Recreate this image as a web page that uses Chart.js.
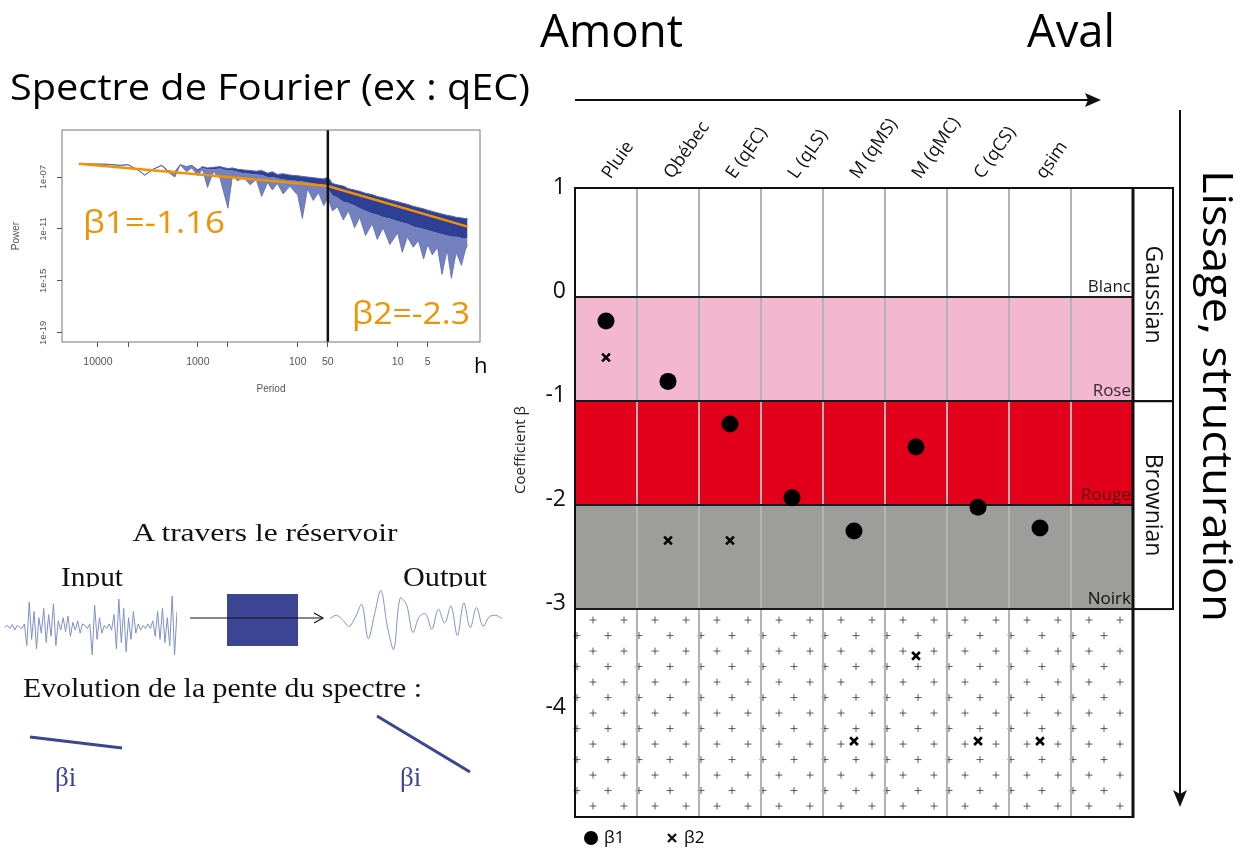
<!DOCTYPE html>
<html lang="fr">
<head>
<meta charset="utf-8">
<title>Coefficient β – spectre de Fourier</title>
<script src="https://cdn.jsdelivr.net/npm/chart.js@4.4.1/dist/chart.umd.min.js"></script>
<style>
  html, body { margin: 0; padding: 0; background: #fff; }
  #page { position: relative; width: 1249px; height: 852px; overflow: hidden; background: #fff; }
  canvas, svg { position: absolute; }
  #deco { left: 0; top: 0; pointer-events: none; }
</style>
</head>
<body>
<div id="page">
  <canvas id="spectre" width="490" height="280" style="left:0;top:120px;width:490px;height:280px"></canvas>
  <canvas id="entree" width="172" height="62" style="left:5px;top:596px;width:172px;height:62px"></canvas>
  <canvas id="sortie" width="172" height="62" style="left:330px;top:589px;width:172px;height:62px"></canvas>
  <canvas id="beta" width="700" height="752" style="left:500px;top:100px;width:700px;height:752px"></canvas>

  <svg id="deco" width="1249" height="852" viewBox="0 0 1249 852">
    <defs>
      <clipPath id="coupe"><rect x="0" y="540" width="520" height="47"/></clipPath>
    </defs>
    <g font-family="'Open Sans', sans-serif" fill="#000">
      <text x="10" y="100" font-size="37" textLength="520" lengthAdjust="spacingAndGlyphs">Spectre de Fourier (ex : qEC)</text>
      <text x="540" y="47" font-size="46" textLength="143" lengthAdjust="spacingAndGlyphs">Amont</text>
      <text x="1027" y="47" font-size="46" textLength="88" lengthAdjust="spacingAndGlyphs">Aval</text>
      <text transform="translate(1203,170) rotate(90)" font-size="42" textLength="452" lengthAdjust="spacingAndGlyphs">Lissage, structuration</text>
      <text x="474" y="373" font-size="22">h</text>
      <text x="83" y="233" font-size="31" fill="#f39200" textLength="142" lengthAdjust="spacingAndGlyphs">β1=-1.16</text>
      <text x="352" y="324" font-size="31" fill="#f39200" textLength="118" lengthAdjust="spacingAndGlyphs">β2=-2.3</text>
    </g>
    <!-- fleches amont / aval et lissage -->
    <line x1="575" y1="100" x2="1088" y2="100" stroke="#111" stroke-width="2.2"/>
    <polygon points="1101,100 1085,93 1088,100 1085,107" fill="#111"/>
    <line x1="1180" y1="110" x2="1180" y2="794" stroke="#111" stroke-width="2"/>
    <polygon points="1180,807 1173,790 1180,794 1187,790" fill="#111"/>
    <!-- schema du reservoir -->
    <g font-family="'Liberation Serif', 'Times New Roman', serif" fill="#111">
      <text x="265" y="541" font-size="26" text-anchor="middle" textLength="265" lengthAdjust="spacingAndGlyphs">A travers le réservoir</text>
      <g clip-path="url(#coupe)">
        <text x="61" y="586" font-size="27" textLength="62" lengthAdjust="spacingAndGlyphs">Input</text>
        <text x="403" y="586" font-size="27" textLength="84" lengthAdjust="spacingAndGlyphs">Output</text>
      </g>
      <text x="23" y="697" font-size="27" textLength="399" lengthAdjust="spacingAndGlyphs">Evolution de la pente du spectre :</text>
      <text x="55" y="786" font-size="27" fill="#3b4594">βi</text>
      <text x="400" y="786" font-size="27" fill="#3b4594">βi</text>
    </g>
    <rect x="227" y="594" width="71" height="52" fill="#3b4594"/>
    <line x1="190" y1="618" x2="322" y2="618" stroke="#111" stroke-width="1.2"/>
    <polyline points="314,613 323,618 314,623" fill="none" stroke="#111" stroke-width="1.2"/>
    <line x1="30" y1="737" x2="122" y2="748" stroke="#3b4594" stroke-width="3"/>
    <line x1="377" y1="716" x2="470" y2="772" stroke="#3b4594" stroke-width="3"/>
  </svg>
</div>

<script>
// ---------- coefficients beta par station (d'amont en aval) ----------
const colonnes = ['Pluie', 'Qbébec', 'E (qEC)', 'L (qLS)', 'M (qMS)', 'M (qMC)', 'C (qCS)', 'qsim', ''];
const beta1 = [-0.23, -0.81, -1.22, -1.93, -2.25, -1.44, -2.02, -2.22, null];
const beta2 = [-0.58, -2.34, -2.34, null, -4.27, -3.45, -4.27, -4.27, null];
const ticksBeta = [1, 0, -1, -2, -3, -4];

// bandes de couleur du bruit
const bandNoms = ['Blanc', 'Rose', 'Rouge', 'Noirk'];
const bandHaut = [1, 0, -1, -2];
const bandBas = [0, -1, -2, -3];
const regimeNoms = ['Gaussian', 'Brownian'];
const regimeHaut = [1, -1];
const regimeBas = [-1, -3];

// ---------- spectre de Fourier (qEC) ----------
const periodes = [15500, 11000, 8000, 6000, 5000, 4000, 3400, 2800, 2300, 2000, 1700, 1500, 1300, 1150,
  1000, 900, 800, 700, 600, 500, 450, 400, 350, 300, 260, 230, 200, 180, 160, 140, 120, 100, 90, 80, 70, 62, 55,
  50, 45, 40, 35, 31, 27, 24, 21, 18, 16, 14, 12, 10, 9, 8, 7, 6.2, 5.5, 5, 4.5, 4, 3.6, 3.2, 2.9, 2.6, 2.3, 2.1, 2];
// log10 de la puissance : bord haut, bas du coeur dense, pointes basses
const puissanceHaut = [-6.0, -6.0, -6.02, -6.1, -6.05, -6.45, -6.85, -6.4, -6.1, -6.5, -6.6, -6.05, -6.2, -6.1,
  -6.45, -6.2, -6.3, -6.25, -6.2, -6.35, -6.3, -6.4, -6.45, -6.5, -6.55, -6.5, -6.7, -6.6, -6.8, -6.75, -6.85, -6.9, -6.95, -7.0, -7.05, -7.1, -7.15,
  -7.0, -7.5, -7.6, -7.7, -7.9, -8.0, -8.1, -8.25, -8.35, -8.5, -8.6, -8.75, -8.9, -9.0, -9.1, -9.25, -9.35, -9.45, -9.55, -9.65, -9.75, -9.85, -9.95, -10.0, -10.1, -10.15, -10.2, -10.2];
const puissanceCoeur = [-6.0, -6.0, -6.02, -6.1, -6.05, -6.45, -6.85, -6.4, -6.1, -6.5, -6.6, -6.05, -6.2, -6.1,
  -6.55, -6.3, -6.4, -6.4, -6.35, -6.5, -6.5, -6.6, -6.7, -6.75, -6.8, -6.85, -7.0, -7.0, -7.1, -7.2, -7.25, -7.3, -7.35, -7.4, -7.5, -7.55, -7.6,
  -7.9, -8.4, -8.6, -8.9, -9.0, -9.2, -9.4, -9.6, -9.8, -9.9, -10.1, -10.2, -10.4, -10.5, -10.6, -10.8, -10.9, -11.0, -11.1, -11.2, -11.3, -11.4, -11.5, -11.6, -11.6, -11.7, -11.7, -11.7];
const puissanceBas = [-6.0, -6.0, -6.02, -6.1, -6.05, -6.45, -6.85, -6.4, -6.1, -6.6, -7.0, -6.05, -6.6, -6.3,
  -6.9, -6.4, -7.8, -6.6, -7.1, -9.4, -6.9, -7.3, -7.0, -7.6, -7.2, -8.5, -7.4, -8.0, -7.5, -8.3, -7.7, -8.4, -10.2, -7.9, -8.8, -8.2, -9.2,
  -8.6, -9.6, -9.3, -10.3, -9.6, -10.9, -10.1, -11.5, -10.6, -11.8, -10.9, -12.2, -11.3, -12.8, -11.6, -12.4, -11.9, -13.3, -12.2, -13.0, -12.4, -14.5, -12.6, -14.8, -12.8, -13.8, -12.6, -12.2];
const ajustPeriodes = [15500, 50, 2];
const ajustPuissance = [-5.98, -7.69, -10.82];
const periodeRupture = 50;
const ticksPeriode = [10000, 5000, 1000, 500, 100, 50, 10, 5];
const labelsPeriode = ['10000', '', '1000', '', '100', '50', '10', '5'];
const ticksPuissance = [1e-7, 1e-11, 1e-15, 1e-19];
const labelsPuissance = ['1e-07', '1e-11', '1e-15', '1e-19'];

// ---------- signaux entree / sortie ----------
const signalEntree = [0, 0.05, -0.05, 0.08, -0.1, 0.05, 0, -0.05, 0.1, -0.6, 0.8, -0.4, 0.5, -0.7, 0.3, -0.2, 0.6, -0.5,
  0.4, -0.3, 0.75, -0.6, 0.2, -0.1, 0.3, -0.15, 0.35, -0.3, 0.15, -0.1, 0.2, -0.2, 0.1, 0.05, -0.05, 0.1, -0.9, 0.7,
  -0.4, 0.3, -0.2, 0.05, -0.05, 0.1, -0.1, 0.4, -0.7, 0.9, -0.5, 0.6, -0.8, 0.3, -0.4, 0.5, -0.2, 0.1, -0.1, 0.05,
  -0.05, 0.1, -0.05, 0.2, -0.3, 0.5, -0.4, 0.6, -0.5, 0.3, -0.6, 1.0, -0.9, 0.5];
const signalSortie = [0.05, 0.15, 0.0, -0.2, 0.1, 0.5, -0.6, 0.2, 0.95, -0.2, -0.95, 0.7, 0.5, -0.4, 0.1, 0.2, -0.3,
  0.35, -0.1, 0.45, -0.5, 0.55, -0.25, 0.4, -0.2, 0.1, 0.15, 0.05];

// styles
const couleursBandes = ['#ffffff', '#f3b8cf', '#e2001a', '#9d9d9c'];
const couleursNoms = ['#1a1a1a', '#3a2530', '#5e0610', '#111111'];
const bleu = '#3b4594';
const orange = '#f39200';

Chart.defaults.font.family = '"Open Sans", sans-serif';
Chart.defaults.animation = false;

// ---------- graphique principal ----------
const fondBandes = {
    id: 'fondBandes',
    beforeDraw(chart) {
        const { ctx, chartArea: a, scales: { y } } = chart;
        ctx.save();
        bandHaut.forEach((h, i) => {
            const y1 = i === 0 ? a.top : y.getPixelForValue(h);
            const y2 = y.getPixelForValue(bandBas[i]);
            ctx.fillStyle = couleursBandes[i];
            ctx.fillRect(a.left, y1, a.right - a.left, y2 - y1);
        });
        // zone hachuree sous la derniere bande
        const yZone = y.getPixelForValue(bandBas[bandBas.length - 1]);
        ctx.strokeStyle = '#333';
        ctx.lineWidth = 0.8;
        let r = 0;
        for (let py = yZone + 11; py < a.bottom - 4; py += 15.5, r++) {
            for (let px = a.left + (r % 2 ? 2 : 18); px < a.right - 2; px += 31) {
                ctx.beginPath();
                ctx.moveTo(px - 3.5, py); ctx.lineTo(px + 3.5, py);
                ctx.moveTo(px, py - 3.5); ctx.lineTo(px, py + 3.5);
                ctx.stroke();
            }
        }
        ctx.restore();
    },
    afterDraw(chart) {
        const { ctx, chartArea: a, scales: { y } } = chart;
        ctx.save();
        // titre de l'axe
        ctx.fillStyle = '#222';
        ctx.font = '15px "Open Sans"';
        ctx.textAlign = 'center';
        ctx.textBaseline = 'middle';
        ctx.save();
        ctx.translate(a.left - 54, y.getPixelForValue(-1.47));
        ctx.rotate(-Math.PI / 2);
        ctx.fillText('Coefficient β', 0, 0);
        ctx.restore();
        // noms des bandes
        ctx.font = '17px "Open Sans"';
        ctx.textAlign = 'right';
        ctx.textBaseline = 'alphabetic';
        bandNoms.forEach((nom, i) => {
            ctx.fillStyle = couleursNoms[i];
            ctx.fillText(nom, a.right - 2, y.getPixelForValue(bandBas[i]) - 5);
        });
        // bordures bas et droite
        ctx.strokeStyle = '#111';
        ctx.lineWidth = 2;
        ctx.beginPath(); ctx.moveTo(a.left - 1, a.bottom); ctx.lineTo(a.right, a.bottom); ctx.stroke();
        ctx.lineWidth = 3;
        ctx.beginPath(); ctx.moveTo(a.right, a.top - 1); ctx.lineTo(a.right, a.bottom + 1); ctx.stroke();
        // boite Gaussian / Brownian
        ctx.lineWidth = 2;
        ctx.font = '23px "Open Sans"';
        ctx.fillStyle = '#111';
        ctx.textAlign = 'center';
        ctx.textBaseline = 'middle';
        regimeNoms.forEach((nom, i) => {
            const y1 = i === 0 ? a.top : y.getPixelForValue(regimeHaut[i]);
            const y2 = y.getPixelForValue(regimeBas[i]);
            ctx.strokeRect(a.right, y1, 40, y2 - y1);
            ctx.save();
            ctx.translate(a.right + 20, (y1 + y2) / 2);
            ctx.rotate(Math.PI / 2);
            ctx.fillText(nom, 0, 0);
            ctx.restore();
        });
        // legende
        const ly = a.bottom + 21;
        const ds = chart.data.datasets;
        ctx.font = '17px "Open Sans"';
        ctx.textAlign = 'left';
        ctx.fillStyle = '#000';
        ctx.beginPath(); ctx.arc(a.left + 16, ly, 7, 0, Math.PI * 2); ctx.fill();
        ctx.fillText(ds[0].label, a.left + 29, ly);
        ctx.lineWidth = 2.4;
        ctx.beginPath();
        ctx.moveTo(a.left + 93, ly - 4); ctx.lineTo(a.left + 101, ly + 4);
        ctx.moveTo(a.left + 101, ly - 4); ctx.lineTo(a.left + 93, ly + 4);
        ctx.stroke();
        ctx.fillText(ds[1].label, a.left + 109, ly);
        ctx.restore();
    }
};

new Chart(document.getElementById('beta'), {
    type: 'line',
    data: {
        labels: colonnes,
        datasets: [
            {
                label: 'β1',
                data: beta1,
                showLine: false,
                pointStyle: 'circle',
                pointRadius: 8.5,
                pointBackgroundColor: '#000',
                pointBorderWidth: 0
            },
            {
                label: 'β2',
                data: beta2,
                showLine: false,
                pointStyle: 'crossRot',
                pointRadius: 5.5,
                pointBorderColor: '#000',
                pointBorderWidth: 2.6
            }
        ]
    },
    options: {
        responsive: false,
        layout: { padding: { left: 0, right: 67, top: 0, bottom: 35 } },
        plugins: { legend: { display: false }, tooltip: { enabled: false } },
        scales: {
            x: {
                position: 'top',
                offset: true,
                grid: { offset: true, color: '#b3b3b3', lineWidth: 2, drawTicks: false },
                border: { display: true, color: '#111', width: 2 },
                ticks: { color: '#111', font: { size: 18 }, minRotation: 55, maxRotation: 55, padding: 5, labelOffset: 18 },
                afterFit: axis => { axis.height = 88; axis.paddingLeft = 0; axis.paddingRight = 0; }
            },
            y: {
                min: -5,
                max: 1.05,
                afterBuildTicks: axis => { axis.ticks = ticksBeta.map(v => ({ value: v })); },
                afterFit: axis => { axis.width = 75; axis.paddingTop = 0; axis.paddingBottom = 0; },
                grid: {
                    color: c => bandBas.includes(c.tick.value) ? '#1a1a1a' : 'transparent',
                    lineWidth: 2,
                    drawTicks: false
                },
                border: { display: true, color: '#111', width: 2 },
                ticks: { color: '#111', font: { size: 23 }, padding: 9, labelOffset: -6 }
            }
        }
    },
    plugins: [fondBandes]
});

// ---------- spectre de Fourier ----------
const cadreSpectre = {
    id: 'cadreSpectre',
    afterDatasetsDraw(chart) {
        const { ctx, chartArea: a, scales: { x } } = chart;
        const xr = x.getPixelForValue(periodeRupture);
        ctx.save();
        ctx.strokeStyle = '#111';
        ctx.lineWidth = 2.5;
        ctx.beginPath(); ctx.moveTo(xr, a.top); ctx.lineTo(xr, a.bottom); ctx.stroke();
        ctx.restore();
    },
    afterDraw(chart) {
        const { ctx, chartArea: a, scales: { y } } = chart;
        ctx.save();
        ctx.strokeStyle = '#777';
        ctx.lineWidth = 1;
        ctx.strokeRect(a.left, a.top, a.right - a.left, a.bottom - a.top);
        ctx.fillStyle = '#555';
        ctx.font = '9.5px "Liberation Sans"';
        ctx.textAlign = 'center';
        ctx.textBaseline = 'middle';
        ticksPuissance.forEach((v, i) => {
            ctx.save();
            ctx.translate(a.left - 19, y.getPixelForValue(v));
            ctx.rotate(-Math.PI / 2);
            ctx.fillText(labelsPuissance[i], 0, 0);
            ctx.restore();
        });
        ctx.restore();
    }
};

const pointsSpectre = valeurs => periodes.map((p, i) => ({ x: p, y: 10 ** valeurs[i] }));

new Chart(document.getElementById('spectre'), {
    type: 'line',
    data: {
        datasets: [
            {
                label: 'ajustement',
                data: ajustPeriodes.map((p, i) => ({ x: p, y: 10 ** ajustPuissance[i] })),
                borderColor: orange,
                borderWidth: 2.5,
                pointRadius: 0,
                order: 0
            },
            {
                label: 'spectre haut',
                data: pointsSpectre(puissanceHaut),
                borderColor: '#5565b0',
                borderWidth: 1,
                pointRadius: 0,
                order: 1
            },
            {
                label: 'spectre coeur',
                data: pointsSpectre(puissanceCoeur),
                borderColor: 'rgba(0,0,0,0)',
                backgroundColor: '#2e3f96',
                borderWidth: 0,
                pointRadius: 0,
                fill: '-1',
                order: 2
            },
            {
                label: 'spectre bas',
                data: pointsSpectre(puissanceBas),
                borderColor: '#5a6ab5',
                backgroundColor: 'rgba(62, 80, 165, 0.72)',
                borderWidth: 0.8,
                pointRadius: 0,
                fill: '-1',
                order: 3
            }
        ]
    },
    options: {
        responsive: false,
        layout: { padding: { left: 0, right: 10, top: 10, bottom: 0 } },
        plugins: { legend: { display: false }, tooltip: { enabled: false } },
        scales: {
            x: {
                type: 'logarithmic',
                reverse: true,
                min: 1.5,
                max: 22900,
                afterBuildTicks: axis => { axis.ticks = ticksPeriode.map(v => ({ value: v })); },
                afterFit: axis => { axis.height = 58; axis.paddingLeft = 0; axis.paddingRight = 0; },
                grid: { drawOnChartArea: false, drawTicks: true, tickLength: 5, color: '#555' },
                border: { display: false },
                ticks: {
                    color: '#555',
                    font: { size: 10.5, family: '"Liberation Sans"' },
                    padding: 9,
                    maxRotation: 0,
                    autoSkip: false,
                    callback: (v, i) => labelsPeriode[i]
                },
                title: { display: true, text: 'Period', color: '#555', font: { size: 10, family: '"Liberation Sans"' }, padding: { top: 0, bottom: 5 } }
            },
            y: {
                type: 'logarithmic',
                min: 10 ** -19.7,
                max: 10 ** -3.38,
                afterBuildTicks: axis => { axis.ticks = ticksPuissance.map(v => ({ value: v })); },
                afterFit: axis => { axis.width = 62; axis.paddingTop = 0; axis.paddingBottom = 0; },
                grid: { drawOnChartArea: false, drawTicks: true, tickLength: 5, color: '#555' },
                border: { display: false },
                ticks: { display: false },
                title: { display: true, text: 'Power', color: '#555', font: { size: 10, family: '"Liberation Sans"' }, padding: { top: 10, bottom: 0 } }
            }
        }
    },
    plugins: [cadreSpectre]
});

// ---------- petits signaux ----------
const signal = (id, valeurs) => new Chart(document.getElementById(id), {
    type: 'line',
    data: {
        labels: valeurs.map((_, i) => i),
        datasets: [{ data: valeurs, borderColor: '#7f8fcc', borderWidth: 1, pointRadius: 0, tension: id === 'sortie' ? 0.35 : 0 }]
    },
    options: {
        responsive: false,
        layout: { padding: 0 },
        plugins: { legend: { display: false }, tooltip: { enabled: false } },
        scales: { x: { display: false }, y: { display: false, min: -1, max: 1 } }
    }
});
signal('entree', signalEntree);
signal('sortie', signalSortie);
</script>
</body>
</html>
